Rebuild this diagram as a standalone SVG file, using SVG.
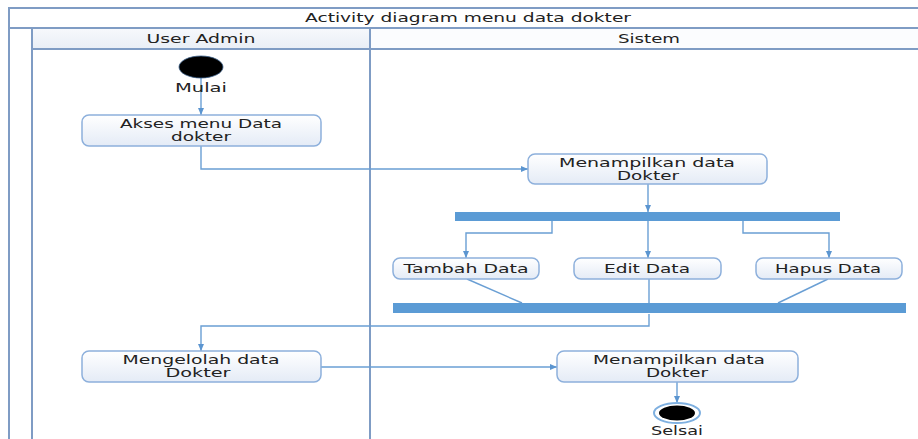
<svg xmlns="http://www.w3.org/2000/svg" width="918" height="439" viewBox="0 0 918 439">
<defs>
<linearGradient id="boxg" x1="0" y1="0" x2="0" y2="1"><stop offset="0" stop-color="#ffffff"/><stop offset="1" stop-color="#e4ebf6"/></linearGradient>
<linearGradient id="hdrg" x1="0" y1="0" x2="0" y2="1"><stop offset="0" stop-color="#f7f9fc"/><stop offset="1" stop-color="#e9eef6"/></linearGradient>
<marker id="arr" markerUnits="userSpaceOnUse" markerWidth="8" markerHeight="8" refX="7" refY="4" orient="auto"><path d="M0,1 L7,4 L0,7 Z" fill="#5b95d0"/></marker>
<style>
.frame{stroke:#7f9cc4;stroke-width:2;fill:none}
.box{fill:url(#boxg);stroke:#8db0dc;stroke-width:1.5}
.bar{fill:#5b9bd5}
.t{font-family:"DejaVu Sans","Liberation Sans",sans-serif;font-size:12px;fill:#222;text-anchor:middle;dominant-baseline:central}
.c{fill:none;stroke:#6a9fd4;stroke-width:1.4}
.ca{fill:none;stroke:#6a9fd4;stroke-width:1.4;marker-end:url(#arr)}
</style>
</defs>
<rect width="918" height="439" fill="#ffffff"/>
<g id="swimlanes">
<rect x="32" y="28" width="338" height="21" fill="url(#hdrg)"/>
<rect x="370" y="28" width="548" height="21" fill="#fbfcfe"/>
<path class="frame" d="M9,439 V8 H918 M9,28 H918 M32,28 V439 M32,49 H918 M370,28 V439"/>
<text class="t" x="468" y="18" textLength="326" lengthAdjust="spacingAndGlyphs">Activity diagram menu data dokter</text>
<text class="t" x="201" y="39" textLength="109" lengthAdjust="spacingAndGlyphs">User Admin</text>
<text class="t" x="649" y="39" textLength="62" lengthAdjust="spacingAndGlyphs">Sistem</text>
</g>
<g id="connectors">
<path class="ca" d="M201,78 V115"/>
<path class="ca" d="M201,146 V169 H528"/>
<path class="ca" d="M648,184 V212"/>
<path class="ca" d="M552,221 V233 H466 V258"/>
<path class="ca" d="M648,221 V258"/>
<path class="ca" d="M743,221 V233 H829 V258"/>
<path class="c" d="M467,279 L522,303"/>
<path class="c" d="M649,279 V303"/>
<path class="c" d="M828,279 L778,303"/>
<path class="ca" d="M649,314 V326 H201 V351"/>
<path class="ca" d="M321,367 H557"/>
<path class="ca" d="M677,382 V403"/>
</g>
<g id="start">
<ellipse cx="201" cy="67" rx="22" ry="11" fill="#000" stroke="#3a5f8a" stroke-width="0.8"/>
<text class="t" x="201" y="88" textLength="52" lengthAdjust="spacingAndGlyphs">Mulai</text>
</g>
<g id="akses">
<rect class="box" x="82" y="115" width="239" height="31" rx="7"/>
<text class="t" x="201" y="124" textLength="162" lengthAdjust="spacingAndGlyphs">Akses menu Data</text>
<text class="t" x="201" y="137" textLength="60" lengthAdjust="spacingAndGlyphs">dokter</text>
</g>
<g id="menampilkan1">
<rect class="box" x="528" y="154" width="239" height="30" rx="7"/>
<text class="t" x="647" y="163" textLength="176" lengthAdjust="spacingAndGlyphs">Menampilkan data</text>
<text class="t" x="648" y="176" textLength="62" lengthAdjust="spacingAndGlyphs">Dokter</text>
</g>
<g id="fork"><rect class="bar" x="455" y="212" width="385" height="9"/></g>
<g id="tambah">
<rect class="box" x="393" y="258" width="146" height="21" rx="7"/>
<text class="t" x="466" y="268.5" textLength="125" lengthAdjust="spacingAndGlyphs">Tambah  Data</text>
</g>
<g id="edit">
<rect class="box" x="574" y="258" width="147" height="21" rx="7"/>
<text class="t" x="647" y="268.5" textLength="86" lengthAdjust="spacingAndGlyphs">Edit Data</text>
</g>
<g id="hapus">
<rect class="box" x="756" y="258" width="146" height="21" rx="7"/>
<text class="t" x="828" y="268.5" textLength="106" lengthAdjust="spacingAndGlyphs">Hapus Data</text>
</g>
<g id="join"><rect class="bar" x="393" y="303" width="513" height="10"/></g>
<g id="mengelolah">
<rect class="box" x="82" y="351" width="239" height="31" rx="7"/>
<text class="t" x="201" y="360" textLength="157" lengthAdjust="spacingAndGlyphs">Mengelolah data</text>
<text class="t" x="198" y="373" textLength="65" lengthAdjust="spacingAndGlyphs">Dokter</text>
</g>
<g id="menampilkan2">
<rect class="box" x="557" y="351" width="241" height="31" rx="7"/>
<text class="t" x="679" y="360" textLength="172" lengthAdjust="spacingAndGlyphs">Menampilkan data</text>
<text class="t" x="677" y="373" textLength="62" lengthAdjust="spacingAndGlyphs">Dokter</text>
</g>
<g id="end">
<ellipse cx="677" cy="413" rx="23" ry="10" fill="#fff" stroke="#7fb0e0" stroke-width="2"/>
<ellipse cx="677" cy="413" rx="18" ry="7.5" fill="#000"/>
<text class="t" x="677" y="431" textLength="52" lengthAdjust="spacingAndGlyphs">Selsai</text>
</g>
</svg>
